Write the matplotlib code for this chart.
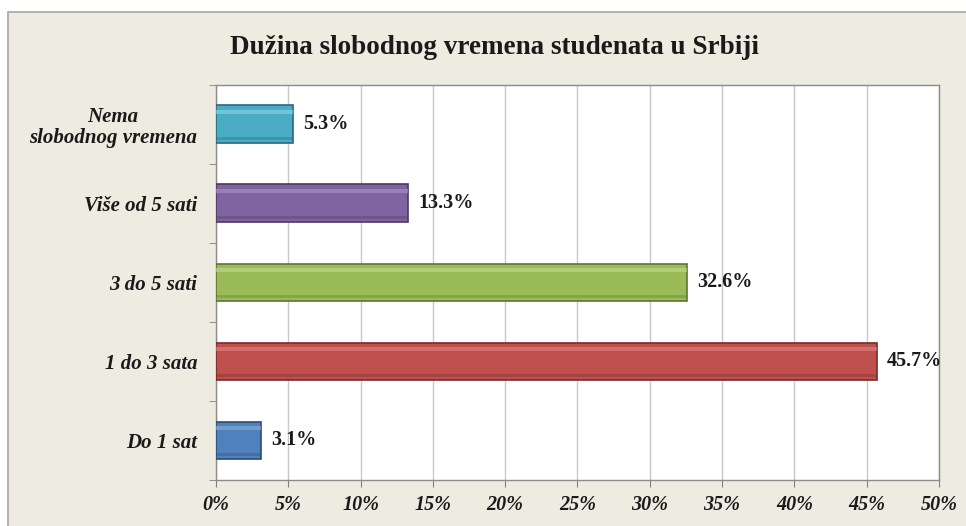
import numpy as np
import matplotlib
matplotlib.use("Agg")
import matplotlib.pyplot as plt
from matplotlib.patches import Rectangle

# ----------------------------
# Data
# ----------------------------
categories = ["Do 1 sat", "1 do 3 sata", "3 do 5 sati", "Više od 5 sati",
              "Nema\nslobodnog vremena"]
values = [3.1, 45.7, 32.6, 13.3, 5.3]
bar_colors = ["#4F81BD", "#C0504D", "#9BBB59", "#8064A2", "#4BACC6"]
edge_colors = ["#2C4D75", "#772C2A", "#5F7530", "#4D3B62", "#276A7C"]
light_colors = ["#8EAEDB", "#E08684", "#C3DA8E", "#AC95C8", "#8ED3E6"]
x_ticks = [0, 5, 10, 15, 20, 25, 30, 35, 40, 45, 50]
title = "Dužina slobodnog vremena studenata u Srbiji"

serif = ["Liberation Serif", "DejaVu Serif"]

fig = plt.figure(figsize=(9.66, 5.26), dpi=100)
fig.patch.set_facecolor("white")

# beige chart frame (behind the axes)
frame = Rectangle((0.008, -0.05), 1.05, 1.027, transform=fig.transFigure,
                  facecolor="#EEECE1", edgecolor="#A6A6A6", linewidth=1.2,
                  zorder=-10)
fig.patches.append(frame)

ax = fig.add_axes([0.2236, 0.0875, 0.7484, 0.751])
ax.set_facecolor("white")

y = np.arange(len(categories))
h = 0.48
ax.barh(y, values, height=h, color=bar_colors, edgecolor=edge_colors,
        linewidth=1.2, zorder=3)
# bevel-ish highlight strip on top, shade at bottom of each bar
ax.barh(y + h * 0.33, values, height=h * 0.12, color=light_colors,
        linewidth=0, zorder=4, alpha=0.6)
ax.barh(y - h * 0.37, values, height=h * 0.1, color=edge_colors,
        linewidth=0, zorder=4, alpha=0.35)

for yi, v in zip(y, values):
    ax.text(v + 0.7, yi, f"{v:.1f}%", va="center", ha="left",
            fontsize=14.5, fontweight="bold", family=serif, color="#1a1a1a",
            zorder=5)

ax.set_xlim(0, 50)
ax.set_ylim(-0.5, len(categories) - 0.5)
ax.set_xticks(x_ticks)
ax.set_xticklabels([f"{t}%" for t in x_ticks], fontsize=14.5,
                   fontweight="bold", style="italic", family=serif)
ax.set_yticks(y)
ax.set_yticklabels(categories, fontsize=15, fontweight="bold",
                   style="italic", family=serif, linespacing=1.05)
for lab in ax.get_yticklabels():
    lab.set_multialignment("center")
ax.set_yticks(np.arange(-0.5, len(categories), 1.0), minor=True)
ax.tick_params(axis="y", which="major", length=0, pad=13.5,
               labelcolor="#1a1a1a")
ax.tick_params(axis="y", which="minor", length=5, color="#7f7f7f")
ax.tick_params(axis="x", which="major", length=5, color="#7f7f7f",
               pad=6, labelcolor="#1a1a1a")

ax.grid(axis="x", color="#C8C8C8", linewidth=1.0, zorder=0)
ax.set_axisbelow(True)
for s in ax.spines.values():
    s.set_color("#8C8C8C")
    s.set_linewidth(1.0)

fig.text(0.512, 0.91, title, ha="center", va="center", fontsize=19.5,
         fontweight="bold", family=serif, color="#1a1a1a")

fig.savefig("out.png", dpi=100, facecolor=fig.get_facecolor())
